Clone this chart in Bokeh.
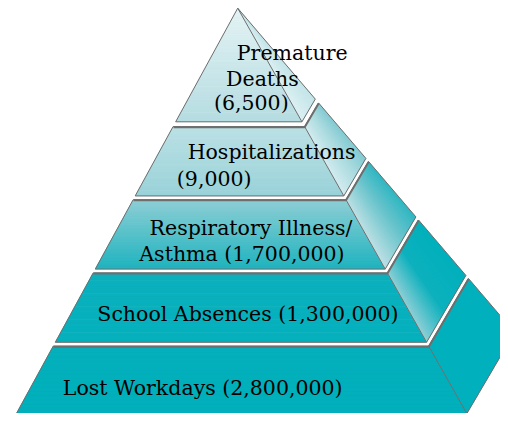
import numpy as np
from bokeh.plotting import figure
from bokeh.models import Range1d, ColumnDataSource
from bokeh.embed import file_html
from bokeh.resources import INLINE
from bokeh.core.properties import value

# ---------------- data ----------------
tiers = ["Premature Deaths", "Hospitalizations", "Respiratory Illness/Asthma",
         "School Absences", "Lost Workdays"]
counts = [6500, 9000, 1700000, 1300000, 2800000]
label_lines = [["Premature", "Deaths"], ["Hospitalizations"],
               ["Respiratory Illness/", "Asthma"], ["School Absences"], ["Lost Workdays"]]
count_own_line = [True, True, False, False, False]

# ---------------- layout (drawing space, y grows downward) ----------------
AX, AY = 241.0, 8.0
LEFT_SLOPE, RIGHT_SLOPE, BACK_SLOPE, DEPTH = 0.534, 0.553, 0.835, 0.80
tier_top = [8, 131, 207, 283, 359]
tier_bot = [126, 203, 279, 355, 429]
line_baselines = [[55, 82, 106], [157, 185], [236, 263], [326], [402]]
line_indents = [[21, 24.5, 25], [25.5, 29.5], [29, 33], [24], [29.5]]

front_stops = [(8, "#e4f3f5"), (126, "#b6dde2"), (131, "#bce0e5"), (203, "#9ad3d9"),
               (207, "#8fcfd6"), (279, "#20b4bf"), (283, "#0cb1bd"), (429, "#00b0bc")]
side_stops = [[(0, "#dbf0f2"), (1, "#c2e4e8")],
              [(0, "#d3ecef"), (0.6, "#a7d9de"), (1, "#82cad2")],
              [(0, "#bde0e4"), (0.6, "#66c3cb"), (1, "#2fb7c2")],
              [(0, "#8fcfd6"), (0.45, "#0db1bd"), (1, "#00b0bc")],
              [(0, "#00b1bd"), (1, "#00b1bd")]]


def L(y):
    return AX - LEFT_SLOPE * (y - AY)


def R(y):
    return AX + RIGHT_SLOPE * (y - AY)


def back(y):
    by = AY + DEPTH * (y - AY)
    return AX + BACK_SLOPE * (by - AY), by


def hex2rgb(h):
    h = h.lstrip("#")
    return np.array([int(h[i:i + 2], 16) for i in (0, 2, 4)], float)


def interp_color(stops, t):
    ts = [s[0] for s in stops]
    cs = [hex2rgb(s[1]) for s in stops]
    if t <= ts[0]:
        c = cs[0]
    elif t >= ts[-1]:
        c = cs[-1]
    else:
        for i in range(len(ts) - 1):
            if ts[i] <= t <= ts[i + 1]:
                f = (t - ts[i]) / (ts[i + 1] - ts[i])
                c = cs[i] * (1 - f) + cs[i + 1] * f
                break
    return "#%02x%02x%02x" % tuple(int(round(v)) for v in c)


xs, ys, cols = [], [], []
# front faces (vertical gradient)
for k in range(len(tiers)):
    yt, yb = tier_top[k], tier_bot[k]
    edges = np.arange(yt, yb, 1.5).tolist() + [yb]
    for y0, y1 in zip(edges[:-1], edges[1:]):
        y1e = min(y1 + 0.7, yb)
        xs.append([L(y0), R(y0), R(y1e), L(y1e)])
        ys.append([y0, y0, y1e, y1e])
        cols.append(interp_color(front_stops, (y0 + y1) / 2))
# side faces (gradient from front edge to back edge)
for k in range(len(tiers)):
    yt, yb = tier_top[k], tier_bot[k]
    tf = np.array([R(yt), yt]); tb = np.array(back(yt))
    bf = np.array([R(yb), yb]); bb = np.array(back(yb))
    n = 30
    for i in range(n):
        u0, u1 = i / n, min((i + 1.6) / n, 1.0)
        p1 = tf + (tb - tf) * u0; p2 = tf + (tb - tf) * u1
        p3 = bf + (bb - bf) * u1; p4 = bf + (bb - bf) * u0
        xs.append([p1[0], p2[0], p3[0], p4[0]])
        ys.append([p1[1], p2[1], p3[1], p4[1]])
        cols.append(interp_color(side_stops[k], (i + 0.5) / n))

p = figure(width=500, height=413, output_backend="svg", toolbar_location=None,
           x_range=Range1d(0, 508), y_range=Range1d(429, 0),
           min_border=0, outline_line_color=None, background_fill_color="white",
           border_fill_color="white")
p.axis.visible = False
p.grid.visible = False

p.patches("xs", "ys", source=ColumnDataSource(dict(xs=xs, ys=ys, c=cols)),
          fill_color="c", line_color="c", line_width=0.3)

# outlines of each tier
oxs, oys = [], []
for k in range(len(tiers)):
    yt, yb = tier_top[k], tier_bot[k]
    oxs.append([L(yt), R(yt), R(yb), L(yb), L(yt)]); oys.append([yt, yt, yb, yb, yt])
    bx0, by0 = back(yt); bx1, by1 = back(yb)
    oxs.append([R(yt), bx0, bx1, R(yb)]); oys.append([yt, by0, by1, yb])
p.multi_line(oxs, oys, line_color="#6e6e6e", line_width=1.0)
# heavier top edges of lower tiers
txs, tys = [], []
for k in range(1, len(tiers)):
    yt = tier_top[k]
    bx0, by0 = back(yt)
    txs.append([L(yt) + 0.5, R(yt), bx0]); tys.append([yt + 0.6, yt + 0.6, by0 + 0.6])
p.multi_line(txs, tys, line_color="#6e6e6e", line_width=2.0)

# labels
tx, ty, tt = [], [], []
for k in range(len(tiers)):
    lines = list(label_lines[k])
    cstr = "({:,})".format(counts[k])
    if count_own_line[k]:
        lines.append(cstr)
    else:
        lines[-1] = lines[-1] + " " + cstr
    for j, s in enumerate(lines):
        yb_ = line_baselines[k][j]
        tx.append(L(yb_ - 6) + line_indents[k][j]); ty.append(yb_); tt.append(s)
p.text(tx, ty, text=tt, text_font=value("DejaVu Serif"), text_font_size="20.5px",
       text_color="#000000", text_baseline="alphabetic", text_align="left")

open("out.html", "w").write(file_html(p, INLINE))
